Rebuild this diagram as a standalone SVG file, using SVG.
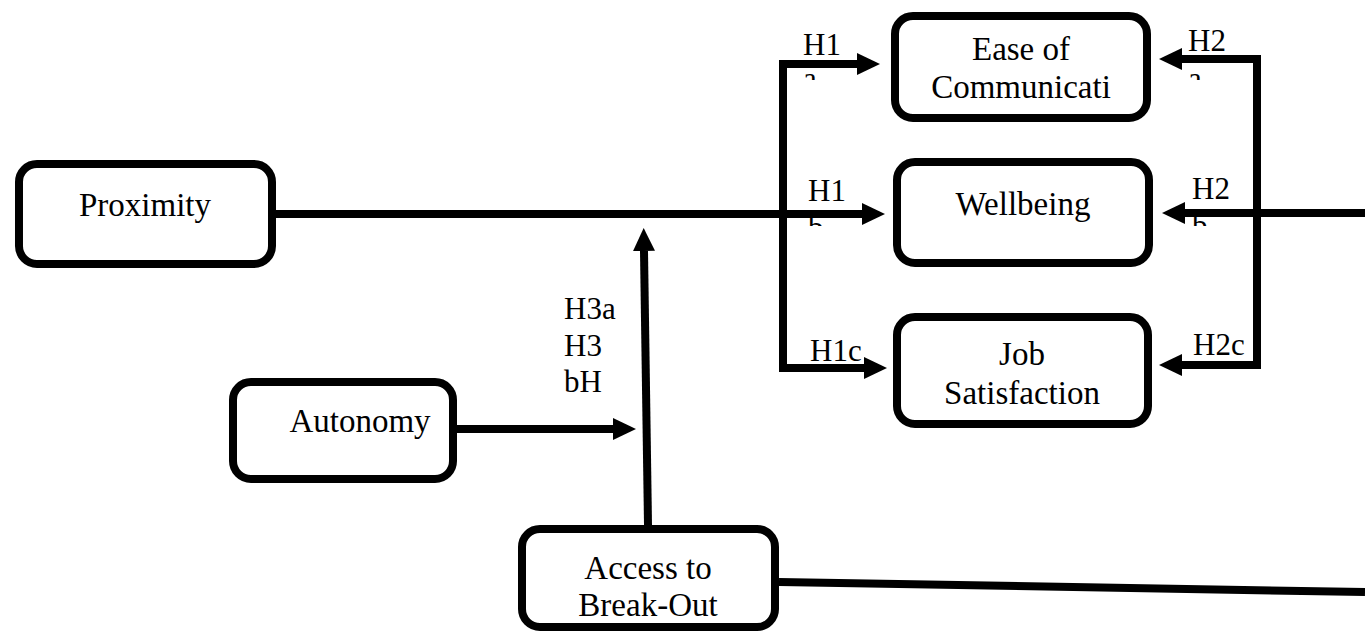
<svg xmlns="http://www.w3.org/2000/svg" width="1365" height="638" viewBox="0 0 1365 638">
<style>
.box{fill:#fff;stroke:#000;stroke-width:8}
.lbl{font-family:"Liberation Serif","Times New Roman",serif;font-size:33px;fill:#000;text-anchor:middle}
.hyp{font-family:"Liberation Serif","Times New Roman",serif;font-size:31px;fill:#000}
.con{fill:none;stroke:#000;stroke-width:8;stroke-linejoin:miter}
.arr{marker-end:url(#ah)}
</style>
<defs>
<marker id="ah" markerUnits="userSpaceOnUse" markerWidth="24" markerHeight="24" viewBox="0 0 24 24" refX="0" refY="12" orient="auto">
<path d="M0,1 L23,12 L0,23 z" fill="#000"/>
</marker>
<marker id="ahs" markerUnits="userSpaceOnUse" markerWidth="24" markerHeight="24" viewBox="0 0 24 24" refX="0" refY="12" orient="auto-start-reverse">
<path d="M0,1 L23,12 L0,23 z" fill="#000"/>
</marker>
<clipPath id="c1a"><rect x="795" y="20" width="60" height="60"/></clipPath>
<clipPath id="c2a"><rect x="1180" y="20" width="60" height="60"/></clipPath>
<clipPath id="c1b"><rect x="800" y="170" width="60" height="56"/></clipPath>
<clipPath id="c2b"><rect x="1185" y="170" width="60" height="56"/></clipPath>
</defs>
<rect width="1365" height="638" fill="#fff"/>
<g id="connectors">
<path class="con arr" d="M276,214 H862"/>
<path class="con" d="M857,64 H783 V368 H864" marker-start="url(#ahs)" marker-end="url(#ah)"/>
<path class="con" d="M1182,59 H1257 V365 H1182" marker-start="url(#ahs)" marker-end="url(#ah)"/>
<path class="con arr" d="M1365,213 H1185"/>
<path class="con arr" d="M457,429 H613"/>
<path class="con arr" d="M648,525 L644,251"/>
<path class="con" d="M779,582 L1365,592"/>
</g>
<g id="labels">
<g clip-path="url(#c1a)"><text class="hyp" x="803" y="55">H1</text><text class="hyp" x="803" y="89">a</text></g>
<g clip-path="url(#c2a)"><text class="hyp" x="1188" y="51">H2</text><text class="hyp" x="1188" y="89">a</text></g>
<g clip-path="url(#c1b)"><text class="hyp" x="808" y="201">H1</text><text class="hyp" x="808" y="238">b</text></g>
<g clip-path="url(#c2b)"><text class="hyp" x="1192" y="199">H2</text><text class="hyp" x="1192" y="236">b</text></g>
<text class="hyp" x="810" y="361">H1c</text>
<text class="hyp" x="1193" y="355">H2c</text>
<text class="hyp" x="564" y="319">H3a</text>
<text class="hyp" x="564" y="356">H3</text>
<text class="hyp" x="564" y="392">bH</text>
</g>
<g id="node-ease">
<rect class="box" x="895" y="16" width="252" height="102" rx="18"/>
<text class="lbl" x="1021" y="60">Ease of</text>
<text class="lbl" x="1021" y="98">Communicati</text>
</g>
<g id="node-wellbeing">
<rect class="box" x="897" y="162" width="252" height="101" rx="18"/>
<text class="lbl" x="1023" y="215">Wellbeing</text>
</g>
<g id="node-job">
<rect class="box" x="897" y="317" width="251" height="107" rx="18"/>
<text class="lbl" x="1022" y="365">Job</text>
<text class="lbl" x="1022" y="404">Satisfaction</text>
</g>
<g id="node-proximity">
<rect class="box" x="19" y="164" width="253" height="100" rx="18"/>
<text class="lbl" x="145" y="216">Proximity</text>
</g>
<g id="node-autonomy">
<rect class="box" x="233" y="382" width="220" height="97" rx="18"/>
<text class="lbl" x="360" y="432">Autonomy</text>
</g>
<g id="node-access">
<rect class="box" x="522" y="529" width="253" height="98" rx="18"/>
<text class="lbl" x="648" y="579">Access to</text>
<text class="lbl" x="648" y="616">Break-Out</text>
</g>
</svg>
